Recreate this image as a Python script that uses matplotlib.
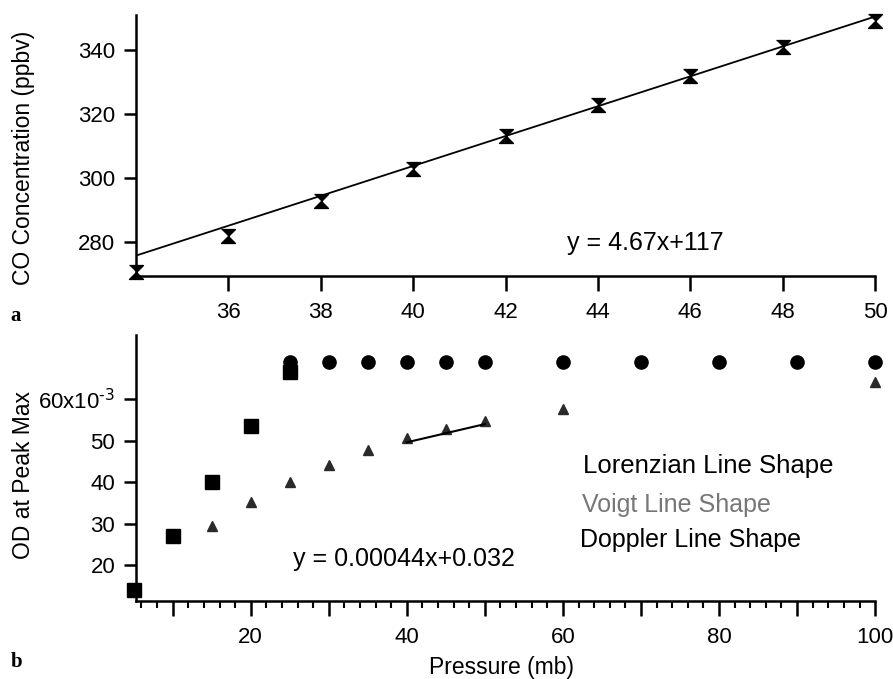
import numpy as np
import matplotlib
matplotlib.use('Agg')
import matplotlib.pyplot as plt
from matplotlib.ticker import MultipleLocator, FuncFormatter

plt.rcParams['font.family'] = ['Liberation Sans', 'DejaVu Sans']

# panel a: CO concentration vs pressure
pressure_a = [34, 36, 38, 40, 42, 44, 46, 48, 50]
co_ppbv = [270.5, 281.8, 293.0, 303.0, 313.2, 323.0, 332.0, 341.0, 349.2]
fit_a_slope, fit_a_icpt = 4.67, 117

# panel b: OD at peak max vs pressure
lor_p = [25, 30, 35, 40, 45, 50, 60, 70, 80, 90, 100]
lor_od = [68.9e-3] * 11
dop_p = [5, 10, 15, 20, 25]
dop_od = [14.0e-3, 27.0e-3, 40.0e-3, 53.6e-3, 66.6e-3]
voigt_p = [15, 20, 25, 30, 35, 40, 45, 50, 60, 100]
voigt_od = [29.4e-3, 35.1e-3, 40.1e-3, 44.2e-3, 47.8e-3, 50.6e-3, 52.8e-3, 54.8e-3, 57.7e-3, 64.2e-3]
fit_b_slope, fit_b_icpt = 0.00044, 0.032
fit_b_range = [40, 50]
od_ticklabels = ['20', '30', '40', '50', '60x10$^{\\text{-3}}$']

hourglass = [(-1, 1), (1, 1), (0, 0), (-1, -1), (1, -1), (0, 0)]

fig = plt.figure(figsize=(8.93, 6.79), dpi=100)
ax1 = fig.add_axes([0.1523, 0.5935, 0.8277, 0.3845])
ax2 = fig.add_axes([0.1523, 0.1149, 0.8277, 0.3917])

for ax in (ax1, ax2):
    ax.spines['top'].set_visible(False)
    ax.spines['right'].set_visible(False)
    ax.spines['left'].set_linewidth(1.8)
    ax.spines['bottom'].set_linewidth(1.8)
    ax.tick_params(direction='out', width=1.8, length=9, labelsize=16, pad=6)

# --- panel a
xf = np.array([34, 50])
ax1.plot(xf, fit_a_slope * xf + fit_a_icpt, color='black', lw=1.3)
ax1.plot(pressure_a, co_ppbv, linestyle='none', marker=hourglass,
         markersize=10, color='black', clip_on=False)
ax1.set_xlim(34, 50)
ax1.set_ylim(269.4, 351)
ax1.set_xticks([36, 38, 40, 42, 44, 46, 48, 50])
ax1.set_yticks([280, 300, 320, 340])
ax1.tick_params(axis='x', length=11, pad=8)
ax1.set_ylabel('CO Concentration (ppbv)', fontsize=16.5)
ax1.yaxis.set_label_coords(-0.137, 0.452)
ax1.text(0.583, 0.10, 'y = 4.67x+117', transform=ax1.transAxes, fontsize=18)
fig.text(0.012, 0.527, 'a', fontsize=15, fontweight='bold', family='Liberation Serif')

# --- panel b
ax2.plot(lor_p, lor_od, linestyle='none', marker='o', markersize=9.5,
         color='black', clip_on=False)
ax2.plot(dop_p, dop_od, linestyle='none', marker='s', markersize=9.5,
         color='black', clip_on=False)
ax2.plot(voigt_p, voigt_od, linestyle='none', marker='^', markersize=7.5,
         color='#2a2a2a', clip_on=False)
xb = np.array(fit_b_range)
ax2.plot(xb, fit_b_slope * xb + fit_b_icpt, color='black', lw=1.5)

ax2.set_xlim(5.3, 100)
ax2.set_ylim(11.3e-3, 75.5e-3)
ax2.xaxis.set_major_locator(MultipleLocator(10))
ax2.xaxis.set_minor_locator(MultipleLocator(2))
ax2.xaxis.set_major_formatter(FuncFormatter(lambda v, p: f'{v:.0f}' if v % 20 == 0 else ''))
ax2.tick_params(axis='x', which='major', length=11, pad=8)
ax2.tick_params(axis='x', which='minor', length=5, width=1.5)
ax2.set_yticks([20e-3, 30e-3, 40e-3, 50e-3, 60e-3])
ax2.set_yticklabels(od_ticklabels)
ax2.set_ylabel('OD at Peak Max', fontsize=16.5)
ax2.yaxis.set_label_coords(-0.137, 0.474)
ax2.set_xlabel('Pressure (mb)', fontsize=16.5)
ax2.xaxis.set_label_coords(0.494, -0.207)
ax2.text(0.2125, 0.13, 'y = 0.00044x+0.032', transform=ax2.transAxes, fontsize=18)
ax2.text(0.605, 0.48, 'Lorenzian Line Shape', transform=ax2.transAxes, fontsize=18.5)
ax2.text(0.6035, 0.335, 'Voigt Line Shape', transform=ax2.transAxes, fontsize=18, color='#777777')
ax2.text(0.601, 0.203, 'Doppler Line Shape', transform=ax2.transAxes, fontsize=18)
fig.text(0.012, 0.018, 'b', fontsize=15, fontweight='bold', family='Liberation Serif')

fig.savefig('out.png', dpi=100)
